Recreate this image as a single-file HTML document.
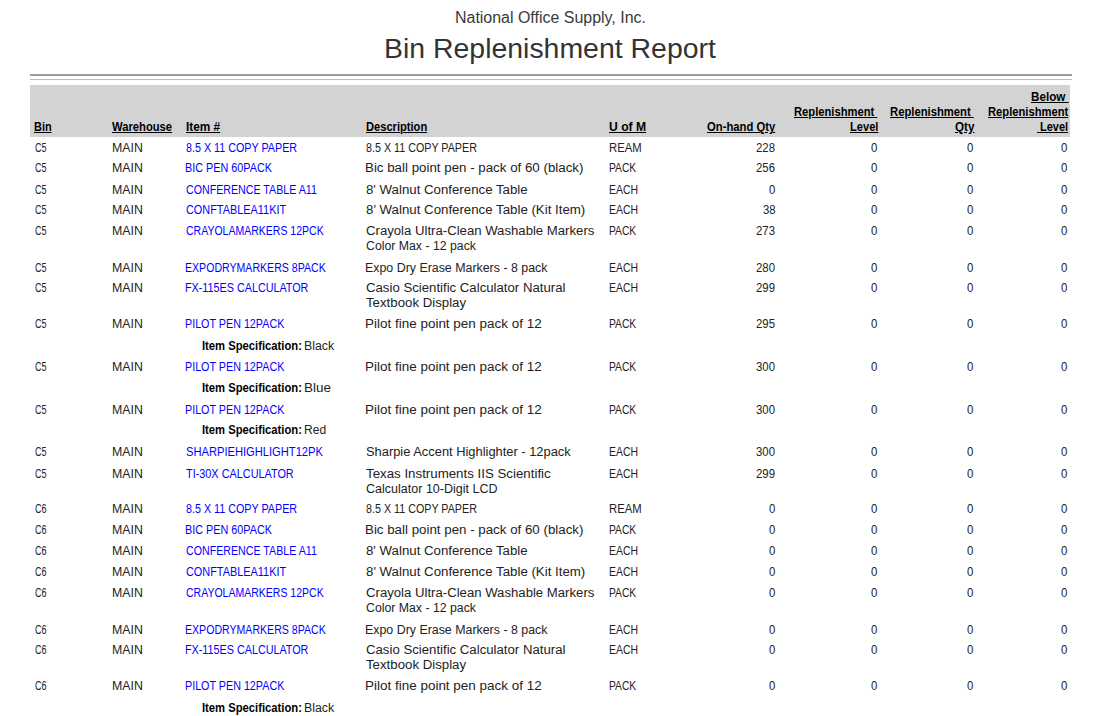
<!DOCTYPE html>
<html><head><meta charset="utf-8"><title>Bin Replenishment Report</title>
<style>
html,body{margin:0;padding:0;background:#fff;}
body{width:1100px;height:716px;position:relative;overflow:hidden;font-family:"Liberation Sans", sans-serif;color:#222;}
body>div{position:absolute;white-space:nowrap;transform-origin:0 0;}
.l1{left:30px;top:74px;width:1042px;height:2px;background:#9e9e9e;}
.l2{left:30px;top:79px;width:1042px;height:1px;background:#bdbdbd;}
.hd{left:30px;top:85px;width:1040px;height:52px;background:#d3d3d3;}
</style></head><body>
<div class="l1"></div><div class="l2"></div><div class="hd"></div>
<div style="left:454.70px;top:7.86px;font-size:16px;line-height:19px;color:#3a3a3a;transform:scaleX(0.9970);">National Office Supply, Inc.</div>
<div style="left:383.79px;top:33.12px;font-size:27px;line-height:32px;color:#333333;transform:scaleX(1.0530);">Bin Replenishment Report</div>
<div style="left:33.60px;top:119.90px;font-size:12px;line-height:14px;font-weight:700;color:#000000;text-decoration:underline;transform:scaleX(0.9105);">Bin</div>
<div style="left:111.80px;top:119.90px;font-size:12px;line-height:14px;font-weight:700;color:#000000;text-decoration:underline;transform:scaleX(0.9355);">Warehouse</div>
<div style="left:185.50px;top:119.90px;font-size:12px;line-height:14px;font-weight:700;color:#000000;text-decoration:underline;transform:scaleX(0.9855);">Item #</div>
<div style="left:366.00px;top:119.90px;font-size:12px;line-height:14px;font-weight:700;color:#000000;text-decoration:underline;transform:scaleX(0.9272);">Description</div>
<div style="left:608.70px;top:119.90px;font-size:12px;line-height:14px;font-weight:700;color:#000000;text-decoration:underline;transform:scaleX(1.0120);">U of M</div>
<div style="left:707.30px;top:119.90px;font-size:12px;line-height:14px;font-weight:700;color:#000000;text-decoration:underline;transform:scaleX(0.9385);">On-hand Qty</div>
<div style="left:794.20px;top:104.90px;font-size:12px;line-height:14px;font-weight:700;color:#000000;text-decoration:underline;transform:scaleX(0.9334);">Replenishment&#160;</div>
<div style="left:849.50px;top:119.90px;font-size:12px;line-height:14px;font-weight:700;color:#000000;text-decoration:underline;transform:scaleX(0.9258);">Level</div>
<div style="left:890.40px;top:104.90px;font-size:12px;line-height:14px;font-weight:700;color:#000000;text-decoration:underline;transform:scaleX(0.9379);">Replenishment&#160;</div>
<div style="left:954.50px;top:119.90px;font-size:12px;line-height:14px;font-weight:700;color:#000000;text-decoration:underline;transform:scaleX(0.9690);">Qty</div>
<div style="left:1030.90px;top:89.90px;font-size:12px;line-height:14px;font-weight:700;color:#000000;text-decoration:underline;transform:scaleX(0.9723);">Below&#160;</div>
<div style="left:987.80px;top:104.90px;font-size:12px;line-height:14px;font-weight:700;color:#000000;text-decoration:underline;transform:scaleX(0.9323);">Replenishment</div>
<div style="left:1036.90px;top:119.90px;font-size:12px;line-height:14px;font-weight:700;color:#000000;text-decoration:underline;transform:scaleX(0.9142);">&#160;Level</div>
<div style="left:34.50px;top:141.00px;font-size:12.5px;line-height:15px;transform:scaleX(0.7175);">C5</div>
<div style="left:111.71px;top:141.00px;font-size:12.5px;line-height:15px;transform:scaleX(0.9860);">MAIN</div>
<div style="left:185.60px;top:141.00px;font-size:12.5px;line-height:15px;color:#0000ff;transform:scaleX(0.8599);">8.5 X 11 COPY PAPER</div>
<div style="left:366.40px;top:141.00px;font-size:12.5px;line-height:15px;transform:scaleX(0.8584);">8.5 X 11 COPY PAPER</div>
<div style="left:608.60px;top:141.00px;font-size:12.5px;line-height:15px;transform:scaleX(0.9048);">REAM</div>
<div style="left:756.10px;top:141.00px;font-size:12.5px;line-height:15px;transform:scaleX(0.9089);">228</div>
<div style="left:870.60px;top:141.00px;font-size:12.5px;line-height:15px;transform:scaleX(0.9143);">0</div>
<div style="left:967.00px;top:141.00px;font-size:12.5px;line-height:15px;transform:scaleX(0.9143);">0</div>
<div style="left:1061.20px;top:141.00px;font-size:12.5px;line-height:15px;transform:scaleX(0.9143);">0</div>
<div style="left:34.50px;top:161.00px;font-size:12.5px;line-height:15px;transform:scaleX(0.7175);">C5</div>
<div style="left:111.71px;top:161.00px;font-size:12.5px;line-height:15px;transform:scaleX(0.9860);">MAIN</div>
<div style="left:184.74px;top:161.00px;font-size:12.5px;line-height:15px;color:#0000ff;transform:scaleX(0.8646);">BIC PEN 60PACK</div>
<div style="left:365.33px;top:161.00px;font-size:12.5px;line-height:15px;transform:scaleX(1.0657);">Bic ball point pen - pack of 60 (black)</div>
<div style="left:608.68px;top:161.00px;font-size:12.5px;line-height:15px;transform:scaleX(0.8208);">PACK</div>
<div style="left:756.10px;top:161.00px;font-size:12.5px;line-height:15px;transform:scaleX(0.9089);">256</div>
<div style="left:870.60px;top:161.00px;font-size:12.5px;line-height:15px;transform:scaleX(0.9143);">0</div>
<div style="left:967.00px;top:161.00px;font-size:12.5px;line-height:15px;transform:scaleX(0.9143);">0</div>
<div style="left:1061.20px;top:161.00px;font-size:12.5px;line-height:15px;transform:scaleX(0.9143);">0</div>
<div style="left:34.50px;top:183.00px;font-size:12.5px;line-height:15px;transform:scaleX(0.7175);">C5</div>
<div style="left:111.71px;top:183.00px;font-size:12.5px;line-height:15px;transform:scaleX(0.9860);">MAIN</div>
<div style="left:185.60px;top:183.00px;font-size:12.5px;line-height:15px;color:#0000ff;transform:scaleX(0.8525);">CONFERENCE TABLE A11</div>
<div style="left:366.40px;top:183.00px;font-size:12.5px;line-height:15px;transform:scaleX(1.0599);">8' Walnut Conference Table</div>
<div style="left:608.67px;top:183.00px;font-size:12.5px;line-height:15px;transform:scaleX(0.8338);">EACH</div>
<div style="left:768.70px;top:183.00px;font-size:12.5px;line-height:15px;transform:scaleX(0.9143);">0</div>
<div style="left:870.60px;top:183.00px;font-size:12.5px;line-height:15px;transform:scaleX(0.9143);">0</div>
<div style="left:967.00px;top:183.00px;font-size:12.5px;line-height:15px;transform:scaleX(0.9143);">0</div>
<div style="left:1061.20px;top:183.00px;font-size:12.5px;line-height:15px;transform:scaleX(0.9143);">0</div>
<div style="left:34.50px;top:203.00px;font-size:12.5px;line-height:15px;transform:scaleX(0.7175);">C5</div>
<div style="left:111.71px;top:203.00px;font-size:12.5px;line-height:15px;transform:scaleX(0.9860);">MAIN</div>
<div style="left:185.60px;top:203.00px;font-size:12.5px;line-height:15px;color:#0000ff;transform:scaleX(0.8715);">CONFTABLEA11KIT</div>
<div style="left:366.40px;top:203.00px;font-size:12.5px;line-height:15px;transform:scaleX(1.0609);">8' Walnut Conference Table (Kit Item)</div>
<div style="left:608.67px;top:203.00px;font-size:12.5px;line-height:15px;transform:scaleX(0.8338);">EACH</div>
<div style="left:762.50px;top:203.00px;font-size:12.5px;line-height:15px;transform:scaleX(0.9031);">38</div>
<div style="left:870.60px;top:203.00px;font-size:12.5px;line-height:15px;transform:scaleX(0.9143);">0</div>
<div style="left:967.00px;top:203.00px;font-size:12.5px;line-height:15px;transform:scaleX(0.9143);">0</div>
<div style="left:1061.20px;top:203.00px;font-size:12.5px;line-height:15px;transform:scaleX(0.9143);">0</div>
<div style="left:34.50px;top:224.00px;font-size:12.5px;line-height:15px;transform:scaleX(0.7175);">C5</div>
<div style="left:111.71px;top:224.00px;font-size:12.5px;line-height:15px;transform:scaleX(0.9860);">MAIN</div>
<div style="left:185.60px;top:224.00px;font-size:12.5px;line-height:15px;color:#0000ff;transform:scaleX(0.8408);">CRAYOLAMARKERS 12PCK</div>
<div style="left:366.40px;top:224.00px;font-size:12.5px;line-height:15px;transform:scaleX(1.0525);">Crayola Ultra-Clean Washable Markers</div>
<div style="left:366.40px;top:239.00px;font-size:12.5px;line-height:15px;transform:scaleX(0.9832);">Color Max - 12 pack</div>
<div style="left:608.68px;top:224.00px;font-size:12.5px;line-height:15px;transform:scaleX(0.8208);">PACK</div>
<div style="left:756.10px;top:224.00px;font-size:12.5px;line-height:15px;transform:scaleX(0.9089);">273</div>
<div style="left:870.60px;top:224.00px;font-size:12.5px;line-height:15px;transform:scaleX(0.9143);">0</div>
<div style="left:967.00px;top:224.00px;font-size:12.5px;line-height:15px;transform:scaleX(0.9143);">0</div>
<div style="left:1061.20px;top:224.00px;font-size:12.5px;line-height:15px;transform:scaleX(0.9143);">0</div>
<div style="left:34.50px;top:261.00px;font-size:12.5px;line-height:15px;transform:scaleX(0.7175);">C5</div>
<div style="left:111.71px;top:261.00px;font-size:12.5px;line-height:15px;transform:scaleX(0.9860);">MAIN</div>
<div style="left:184.75px;top:261.00px;font-size:12.5px;line-height:15px;color:#0000ff;transform:scaleX(0.8462);">EXPODRYMARKERS 8PACK</div>
<div style="left:365.41px;top:261.00px;font-size:12.5px;line-height:15px;transform:scaleX(0.9911);">Expo Dry Erase Markers - 8 pack</div>
<div style="left:608.67px;top:261.00px;font-size:12.5px;line-height:15px;transform:scaleX(0.8338);">EACH</div>
<div style="left:756.10px;top:261.00px;font-size:12.5px;line-height:15px;transform:scaleX(0.9089);">280</div>
<div style="left:870.60px;top:261.00px;font-size:12.5px;line-height:15px;transform:scaleX(0.9143);">0</div>
<div style="left:967.00px;top:261.00px;font-size:12.5px;line-height:15px;transform:scaleX(0.9143);">0</div>
<div style="left:1061.20px;top:261.00px;font-size:12.5px;line-height:15px;transform:scaleX(0.9143);">0</div>
<div style="left:34.50px;top:281.00px;font-size:12.5px;line-height:15px;transform:scaleX(0.7175);">C5</div>
<div style="left:111.71px;top:281.00px;font-size:12.5px;line-height:15px;transform:scaleX(0.9860);">MAIN</div>
<div style="left:184.74px;top:281.00px;font-size:12.5px;line-height:15px;color:#0000ff;transform:scaleX(0.8622);">FX-115ES CALCULATOR</div>
<div style="left:366.40px;top:281.00px;font-size:12.5px;line-height:15px;transform:scaleX(1.0553);">Casio Scientific Calculator Natural</div>
<div style="left:366.40px;top:296.00px;font-size:12.5px;line-height:15px;transform:scaleX(1.0594);">Textbook Display</div>
<div style="left:608.67px;top:281.00px;font-size:12.5px;line-height:15px;transform:scaleX(0.8338);">EACH</div>
<div style="left:756.10px;top:281.00px;font-size:12.5px;line-height:15px;transform:scaleX(0.9089);">299</div>
<div style="left:870.60px;top:281.00px;font-size:12.5px;line-height:15px;transform:scaleX(0.9143);">0</div>
<div style="left:967.00px;top:281.00px;font-size:12.5px;line-height:15px;transform:scaleX(0.9143);">0</div>
<div style="left:1061.20px;top:281.00px;font-size:12.5px;line-height:15px;transform:scaleX(0.9143);">0</div>
<div style="left:34.50px;top:317.00px;font-size:12.5px;line-height:15px;transform:scaleX(0.7175);">C5</div>
<div style="left:111.71px;top:317.00px;font-size:12.5px;line-height:15px;transform:scaleX(0.9860);">MAIN</div>
<div style="left:184.74px;top:317.00px;font-size:12.5px;line-height:15px;color:#0000ff;transform:scaleX(0.8593);">PILOT PEN 12PACK</div>
<div style="left:365.32px;top:317.00px;font-size:12.5px;line-height:15px;transform:scaleX(1.0776);">Pilot fine point pen pack of 12</div>
<div style="left:608.68px;top:317.00px;font-size:12.5px;line-height:15px;transform:scaleX(0.8208);">PACK</div>
<div style="left:756.10px;top:317.00px;font-size:12.5px;line-height:15px;transform:scaleX(0.9089);">295</div>
<div style="left:870.60px;top:317.00px;font-size:12.5px;line-height:15px;transform:scaleX(0.9143);">0</div>
<div style="left:967.00px;top:317.00px;font-size:12.5px;line-height:15px;transform:scaleX(0.9143);">0</div>
<div style="left:1061.20px;top:317.00px;font-size:12.5px;line-height:15px;transform:scaleX(0.9143);">0</div>
<div style="left:201.80px;top:339.00px;font-size:12.5px;line-height:15px;font-weight:700;color:#000000;transform:scaleX(0.8993);">Item Specification:</div>
<div style="left:304.41px;top:339.00px;font-size:12.5px;line-height:15px;transform:scaleX(0.9863);">Black</div>
<div style="left:34.50px;top:360.00px;font-size:12.5px;line-height:15px;transform:scaleX(0.7175);">C5</div>
<div style="left:111.71px;top:360.00px;font-size:12.5px;line-height:15px;transform:scaleX(0.9860);">MAIN</div>
<div style="left:184.74px;top:360.00px;font-size:12.5px;line-height:15px;color:#0000ff;transform:scaleX(0.8593);">PILOT PEN 12PACK</div>
<div style="left:365.32px;top:360.00px;font-size:12.5px;line-height:15px;transform:scaleX(1.0776);">Pilot fine point pen pack of 12</div>
<div style="left:608.68px;top:360.00px;font-size:12.5px;line-height:15px;transform:scaleX(0.8208);">PACK</div>
<div style="left:756.10px;top:360.00px;font-size:12.5px;line-height:15px;transform:scaleX(0.9089);">300</div>
<div style="left:870.60px;top:360.00px;font-size:12.5px;line-height:15px;transform:scaleX(0.9143);">0</div>
<div style="left:967.00px;top:360.00px;font-size:12.5px;line-height:15px;transform:scaleX(0.9143);">0</div>
<div style="left:1061.20px;top:360.00px;font-size:12.5px;line-height:15px;transform:scaleX(0.9143);">0</div>
<div style="left:201.80px;top:381.00px;font-size:12.5px;line-height:15px;font-weight:700;color:#000000;transform:scaleX(0.8993);">Item Specification:</div>
<div style="left:304.32px;top:381.00px;font-size:12.5px;line-height:15px;transform:scaleX(1.0762);">Blue</div>
<div style="left:34.50px;top:403.00px;font-size:12.5px;line-height:15px;transform:scaleX(0.7175);">C5</div>
<div style="left:111.71px;top:403.00px;font-size:12.5px;line-height:15px;transform:scaleX(0.9860);">MAIN</div>
<div style="left:184.74px;top:403.00px;font-size:12.5px;line-height:15px;color:#0000ff;transform:scaleX(0.8593);">PILOT PEN 12PACK</div>
<div style="left:365.32px;top:403.00px;font-size:12.5px;line-height:15px;transform:scaleX(1.0776);">Pilot fine point pen pack of 12</div>
<div style="left:608.68px;top:403.00px;font-size:12.5px;line-height:15px;transform:scaleX(0.8208);">PACK</div>
<div style="left:756.10px;top:403.00px;font-size:12.5px;line-height:15px;transform:scaleX(0.9089);">300</div>
<div style="left:870.60px;top:403.00px;font-size:12.5px;line-height:15px;transform:scaleX(0.9143);">0</div>
<div style="left:967.00px;top:403.00px;font-size:12.5px;line-height:15px;transform:scaleX(0.9143);">0</div>
<div style="left:1061.20px;top:403.00px;font-size:12.5px;line-height:15px;transform:scaleX(0.9143);">0</div>
<div style="left:201.80px;top:423.00px;font-size:12.5px;line-height:15px;font-weight:700;color:#000000;transform:scaleX(0.8993);">Item Specification:</div>
<div style="left:304.44px;top:423.00px;font-size:12.5px;line-height:15px;transform:scaleX(0.9646);">Red</div>
<div style="left:34.50px;top:445.00px;font-size:12.5px;line-height:15px;transform:scaleX(0.7175);">C5</div>
<div style="left:111.71px;top:445.00px;font-size:12.5px;line-height:15px;transform:scaleX(0.9860);">MAIN</div>
<div style="left:185.60px;top:445.00px;font-size:12.5px;line-height:15px;color:#0000ff;transform:scaleX(0.8918);">SHARPIEHIGHLIGHT12PK</div>
<div style="left:366.40px;top:445.00px;font-size:12.5px;line-height:15px;transform:scaleX(1.0302);">Sharpie Accent Highlighter - 12pack</div>
<div style="left:608.67px;top:445.00px;font-size:12.5px;line-height:15px;transform:scaleX(0.8338);">EACH</div>
<div style="left:756.10px;top:445.00px;font-size:12.5px;line-height:15px;transform:scaleX(0.9089);">300</div>
<div style="left:870.60px;top:445.00px;font-size:12.5px;line-height:15px;transform:scaleX(0.9143);">0</div>
<div style="left:967.00px;top:445.00px;font-size:12.5px;line-height:15px;transform:scaleX(0.9143);">0</div>
<div style="left:1061.20px;top:445.00px;font-size:12.5px;line-height:15px;transform:scaleX(0.9143);">0</div>
<div style="left:34.50px;top:467.00px;font-size:12.5px;line-height:15px;transform:scaleX(0.7175);">C5</div>
<div style="left:111.71px;top:467.00px;font-size:12.5px;line-height:15px;transform:scaleX(0.9860);">MAIN</div>
<div style="left:185.60px;top:467.00px;font-size:12.5px;line-height:15px;color:#0000ff;transform:scaleX(0.8696);">TI-30X CALCULATOR</div>
<div style="left:366.40px;top:467.00px;font-size:12.5px;line-height:15px;transform:scaleX(1.0633);">Texas Instruments IIS Scientific</div>
<div style="left:366.40px;top:482.00px;font-size:12.5px;line-height:15px;transform:scaleX(1.0025);">Calculator 10-Digit LCD</div>
<div style="left:608.67px;top:467.00px;font-size:12.5px;line-height:15px;transform:scaleX(0.8338);">EACH</div>
<div style="left:756.10px;top:467.00px;font-size:12.5px;line-height:15px;transform:scaleX(0.9089);">299</div>
<div style="left:870.60px;top:467.00px;font-size:12.5px;line-height:15px;transform:scaleX(0.9143);">0</div>
<div style="left:967.00px;top:467.00px;font-size:12.5px;line-height:15px;transform:scaleX(0.9143);">0</div>
<div style="left:1061.20px;top:467.00px;font-size:12.5px;line-height:15px;transform:scaleX(0.9143);">0</div>
<div style="left:34.50px;top:502.00px;font-size:12.5px;line-height:15px;transform:scaleX(0.7175);">C6</div>
<div style="left:111.71px;top:502.00px;font-size:12.5px;line-height:15px;transform:scaleX(0.9860);">MAIN</div>
<div style="left:185.60px;top:502.00px;font-size:12.5px;line-height:15px;color:#0000ff;transform:scaleX(0.8599);">8.5 X 11 COPY PAPER</div>
<div style="left:366.40px;top:502.00px;font-size:12.5px;line-height:15px;transform:scaleX(0.8584);">8.5 X 11 COPY PAPER</div>
<div style="left:608.60px;top:502.00px;font-size:12.5px;line-height:15px;transform:scaleX(0.9048);">REAM</div>
<div style="left:768.70px;top:502.00px;font-size:12.5px;line-height:15px;transform:scaleX(0.9143);">0</div>
<div style="left:870.60px;top:502.00px;font-size:12.5px;line-height:15px;transform:scaleX(0.9143);">0</div>
<div style="left:967.00px;top:502.00px;font-size:12.5px;line-height:15px;transform:scaleX(0.9143);">0</div>
<div style="left:1061.20px;top:502.00px;font-size:12.5px;line-height:15px;transform:scaleX(0.9143);">0</div>
<div style="left:34.50px;top:523.00px;font-size:12.5px;line-height:15px;transform:scaleX(0.7175);">C6</div>
<div style="left:111.71px;top:523.00px;font-size:12.5px;line-height:15px;transform:scaleX(0.9860);">MAIN</div>
<div style="left:184.74px;top:523.00px;font-size:12.5px;line-height:15px;color:#0000ff;transform:scaleX(0.8646);">BIC PEN 60PACK</div>
<div style="left:365.33px;top:523.00px;font-size:12.5px;line-height:15px;transform:scaleX(1.0657);">Bic ball point pen - pack of 60 (black)</div>
<div style="left:608.68px;top:523.00px;font-size:12.5px;line-height:15px;transform:scaleX(0.8208);">PACK</div>
<div style="left:768.70px;top:523.00px;font-size:12.5px;line-height:15px;transform:scaleX(0.9143);">0</div>
<div style="left:870.60px;top:523.00px;font-size:12.5px;line-height:15px;transform:scaleX(0.9143);">0</div>
<div style="left:967.00px;top:523.00px;font-size:12.5px;line-height:15px;transform:scaleX(0.9143);">0</div>
<div style="left:1061.20px;top:523.00px;font-size:12.5px;line-height:15px;transform:scaleX(0.9143);">0</div>
<div style="left:34.50px;top:544.00px;font-size:12.5px;line-height:15px;transform:scaleX(0.7175);">C6</div>
<div style="left:111.71px;top:544.00px;font-size:12.5px;line-height:15px;transform:scaleX(0.9860);">MAIN</div>
<div style="left:185.60px;top:544.00px;font-size:12.5px;line-height:15px;color:#0000ff;transform:scaleX(0.8525);">CONFERENCE TABLE A11</div>
<div style="left:366.40px;top:544.00px;font-size:12.5px;line-height:15px;transform:scaleX(1.0599);">8' Walnut Conference Table</div>
<div style="left:608.67px;top:544.00px;font-size:12.5px;line-height:15px;transform:scaleX(0.8338);">EACH</div>
<div style="left:768.70px;top:544.00px;font-size:12.5px;line-height:15px;transform:scaleX(0.9143);">0</div>
<div style="left:870.60px;top:544.00px;font-size:12.5px;line-height:15px;transform:scaleX(0.9143);">0</div>
<div style="left:967.00px;top:544.00px;font-size:12.5px;line-height:15px;transform:scaleX(0.9143);">0</div>
<div style="left:1061.20px;top:544.00px;font-size:12.5px;line-height:15px;transform:scaleX(0.9143);">0</div>
<div style="left:34.50px;top:565.00px;font-size:12.5px;line-height:15px;transform:scaleX(0.7175);">C6</div>
<div style="left:111.71px;top:565.00px;font-size:12.5px;line-height:15px;transform:scaleX(0.9860);">MAIN</div>
<div style="left:185.60px;top:565.00px;font-size:12.5px;line-height:15px;color:#0000ff;transform:scaleX(0.8715);">CONFTABLEA11KIT</div>
<div style="left:366.40px;top:565.00px;font-size:12.5px;line-height:15px;transform:scaleX(1.0609);">8' Walnut Conference Table (Kit Item)</div>
<div style="left:608.67px;top:565.00px;font-size:12.5px;line-height:15px;transform:scaleX(0.8338);">EACH</div>
<div style="left:768.70px;top:565.00px;font-size:12.5px;line-height:15px;transform:scaleX(0.9143);">0</div>
<div style="left:870.60px;top:565.00px;font-size:12.5px;line-height:15px;transform:scaleX(0.9143);">0</div>
<div style="left:967.00px;top:565.00px;font-size:12.5px;line-height:15px;transform:scaleX(0.9143);">0</div>
<div style="left:1061.20px;top:565.00px;font-size:12.5px;line-height:15px;transform:scaleX(0.9143);">0</div>
<div style="left:34.50px;top:586.00px;font-size:12.5px;line-height:15px;transform:scaleX(0.7175);">C6</div>
<div style="left:111.71px;top:586.00px;font-size:12.5px;line-height:15px;transform:scaleX(0.9860);">MAIN</div>
<div style="left:185.60px;top:586.00px;font-size:12.5px;line-height:15px;color:#0000ff;transform:scaleX(0.8408);">CRAYOLAMARKERS 12PCK</div>
<div style="left:366.40px;top:586.00px;font-size:12.5px;line-height:15px;transform:scaleX(1.0525);">Crayola Ultra-Clean Washable Markers</div>
<div style="left:366.40px;top:601.00px;font-size:12.5px;line-height:15px;transform:scaleX(0.9832);">Color Max - 12 pack</div>
<div style="left:608.68px;top:586.00px;font-size:12.5px;line-height:15px;transform:scaleX(0.8208);">PACK</div>
<div style="left:768.70px;top:586.00px;font-size:12.5px;line-height:15px;transform:scaleX(0.9143);">0</div>
<div style="left:870.60px;top:586.00px;font-size:12.5px;line-height:15px;transform:scaleX(0.9143);">0</div>
<div style="left:967.00px;top:586.00px;font-size:12.5px;line-height:15px;transform:scaleX(0.9143);">0</div>
<div style="left:1061.20px;top:586.00px;font-size:12.5px;line-height:15px;transform:scaleX(0.9143);">0</div>
<div style="left:34.50px;top:623.00px;font-size:12.5px;line-height:15px;transform:scaleX(0.7175);">C6</div>
<div style="left:111.71px;top:623.00px;font-size:12.5px;line-height:15px;transform:scaleX(0.9860);">MAIN</div>
<div style="left:184.75px;top:623.00px;font-size:12.5px;line-height:15px;color:#0000ff;transform:scaleX(0.8462);">EXPODRYMARKERS 8PACK</div>
<div style="left:365.41px;top:623.00px;font-size:12.5px;line-height:15px;transform:scaleX(0.9911);">Expo Dry Erase Markers - 8 pack</div>
<div style="left:608.67px;top:623.00px;font-size:12.5px;line-height:15px;transform:scaleX(0.8338);">EACH</div>
<div style="left:768.70px;top:623.00px;font-size:12.5px;line-height:15px;transform:scaleX(0.9143);">0</div>
<div style="left:870.60px;top:623.00px;font-size:12.5px;line-height:15px;transform:scaleX(0.9143);">0</div>
<div style="left:967.00px;top:623.00px;font-size:12.5px;line-height:15px;transform:scaleX(0.9143);">0</div>
<div style="left:1061.20px;top:623.00px;font-size:12.5px;line-height:15px;transform:scaleX(0.9143);">0</div>
<div style="left:34.50px;top:643.00px;font-size:12.5px;line-height:15px;transform:scaleX(0.7175);">C6</div>
<div style="left:111.71px;top:643.00px;font-size:12.5px;line-height:15px;transform:scaleX(0.9860);">MAIN</div>
<div style="left:184.74px;top:643.00px;font-size:12.5px;line-height:15px;color:#0000ff;transform:scaleX(0.8622);">FX-115ES CALCULATOR</div>
<div style="left:366.40px;top:643.00px;font-size:12.5px;line-height:15px;transform:scaleX(1.0553);">Casio Scientific Calculator Natural</div>
<div style="left:366.40px;top:658.00px;font-size:12.5px;line-height:15px;transform:scaleX(1.0594);">Textbook Display</div>
<div style="left:608.67px;top:643.00px;font-size:12.5px;line-height:15px;transform:scaleX(0.8338);">EACH</div>
<div style="left:768.70px;top:643.00px;font-size:12.5px;line-height:15px;transform:scaleX(0.9143);">0</div>
<div style="left:870.60px;top:643.00px;font-size:12.5px;line-height:15px;transform:scaleX(0.9143);">0</div>
<div style="left:967.00px;top:643.00px;font-size:12.5px;line-height:15px;transform:scaleX(0.9143);">0</div>
<div style="left:1061.20px;top:643.00px;font-size:12.5px;line-height:15px;transform:scaleX(0.9143);">0</div>
<div style="left:34.50px;top:679.00px;font-size:12.5px;line-height:15px;transform:scaleX(0.7175);">C6</div>
<div style="left:111.71px;top:679.00px;font-size:12.5px;line-height:15px;transform:scaleX(0.9860);">MAIN</div>
<div style="left:184.74px;top:679.00px;font-size:12.5px;line-height:15px;color:#0000ff;transform:scaleX(0.8593);">PILOT PEN 12PACK</div>
<div style="left:365.32px;top:679.00px;font-size:12.5px;line-height:15px;transform:scaleX(1.0776);">Pilot fine point pen pack of 12</div>
<div style="left:608.68px;top:679.00px;font-size:12.5px;line-height:15px;transform:scaleX(0.8208);">PACK</div>
<div style="left:768.70px;top:679.00px;font-size:12.5px;line-height:15px;transform:scaleX(0.9143);">0</div>
<div style="left:870.60px;top:679.00px;font-size:12.5px;line-height:15px;transform:scaleX(0.9143);">0</div>
<div style="left:967.00px;top:679.00px;font-size:12.5px;line-height:15px;transform:scaleX(0.9143);">0</div>
<div style="left:1061.20px;top:679.00px;font-size:12.5px;line-height:15px;transform:scaleX(0.9143);">0</div>
<div style="left:201.80px;top:701.00px;font-size:12.5px;line-height:15px;font-weight:700;color:#000000;transform:scaleX(0.8993);">Item Specification:</div>
<div style="left:304.41px;top:701.00px;font-size:12.5px;line-height:15px;transform:scaleX(0.9863);">Black</div>
</body></html>
